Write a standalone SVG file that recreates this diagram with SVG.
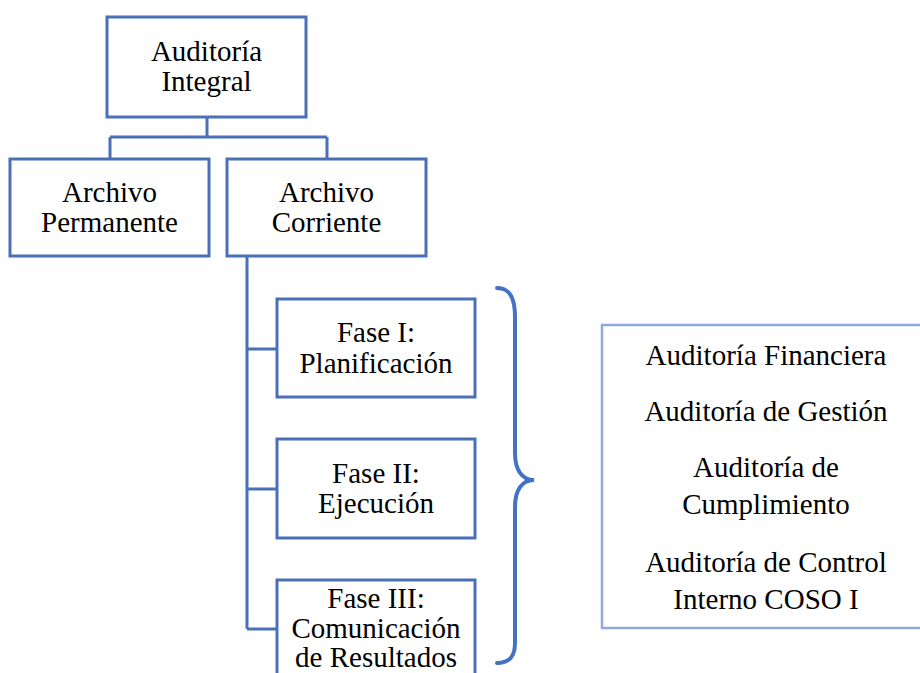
<svg xmlns="http://www.w3.org/2000/svg" width="920" height="673" viewBox="0 0 920 673">
  <style>
    .box { fill: #ffffff; stroke: #4a70b8; stroke-width: 3; }
    .note { fill: #ffffff; stroke: #8eaadb; stroke-width: 2.5; }
    .link { fill: none; stroke: #4a70b8; stroke-width: 3; }
    .brace { fill: none; stroke: #4472c4; stroke-width: 4; stroke-linecap: round; }
    .t { font-family: 'Liberation Serif', 'Times New Roman', Times, 'DejaVu Serif', serif; font-size: 29px; fill: #000000; text-anchor: middle; }
  </style>
  <rect width="920" height="673" fill="#ffffff"/>

  <g id="connectors">
    <path class="link" d="M207 117 V137 M110 137 H327 M110 137 V159 M327 137 V159"/>
    <path class="link" d="M247 256 V629 M247 349 H277 M247 489 H277 M247 629 H277"/>
  </g>

  <g id="auditoria-integral">
    <rect class="box" x="107" y="17" width="199" height="100"/>
    <text class="t" x="206.5" y="61">Auditoría</text>
    <text class="t" x="206.5" y="91">Integral</text>
  </g>

  <g id="archivo-permanente">
    <rect class="box" x="10" y="159" width="199" height="97"/>
    <text class="t" x="109.5" y="202">Archivo</text>
    <text class="t" x="109.5" y="232">Permanente</text>
  </g>

  <g id="archivo-corriente">
    <rect class="box" x="227" y="159" width="199" height="97"/>
    <text class="t" x="326.5" y="202">Archivo</text>
    <text class="t" x="326.5" y="232">Corriente</text>
  </g>

  <g id="fase-1">
    <rect class="box" x="277" y="299" width="198" height="98"/>
    <text class="t" x="376" y="342">Fase I:</text>
    <text class="t" x="376" y="373">Planificación</text>
  </g>

  <g id="fase-2">
    <rect class="box" x="277" y="439" width="198" height="99"/>
    <text class="t" x="376" y="483">Fase II:</text>
    <text class="t" x="376" y="513">Ejecución</text>
  </g>

  <g id="fase-3">
    <rect class="box" x="277" y="580" width="198" height="110"/>
    <text class="t" x="376" y="608">Fase III:</text>
    <text class="t" x="376" y="638">Comunicación</text>
    <text class="t" x="376" y="667">de Resultados</text>
  </g>

  <g id="llave">
    <path class="brace" d="M497 288 C510 288 515 298 515 317 V453 C515 470 522 480 534 480 C522 480 515 490 515 507 V643 C515 656 510 663 497 663"/>
  </g>

  <g id="tipos-auditoria">
    <rect class="note" x="602" y="325" width="330" height="303"/>
    <text class="t" x="766" y="365">Auditoría Financiera</text>
    <text class="t" x="766" y="421">Auditoría de Gestión</text>
    <text class="t" x="766" y="477">Auditoría de</text>
    <text class="t" x="766" y="514">Cumplimiento</text>
    <text class="t" x="766" y="572">Auditoría de Control</text>
    <text class="t" x="766" y="609">Interno COSO I</text>
  </g>
</svg>
